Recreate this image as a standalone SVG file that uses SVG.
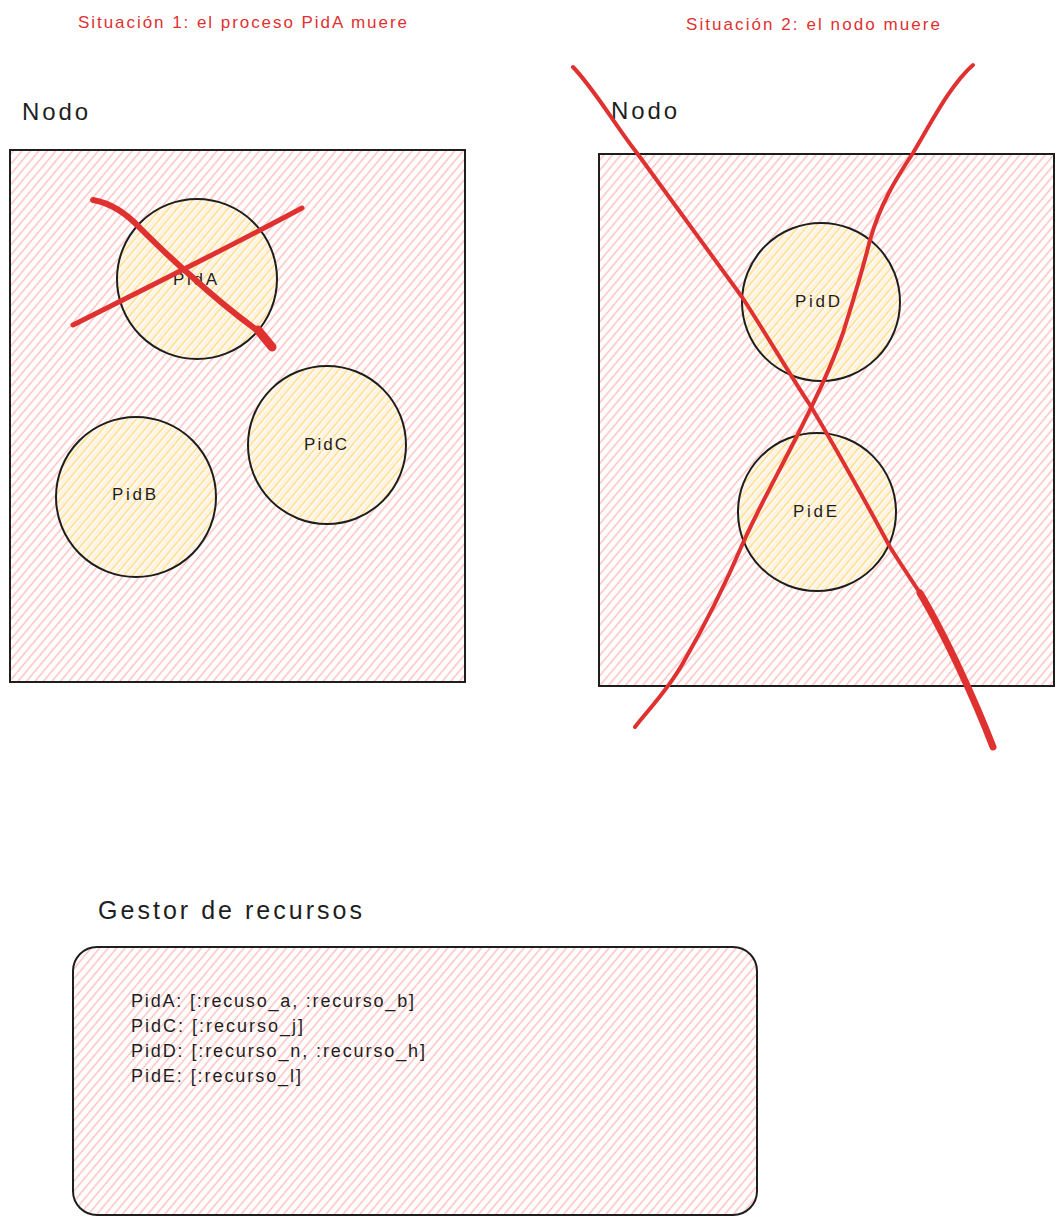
<svg xmlns="http://www.w3.org/2000/svg" width="1064" height="1225" viewBox="0 0 1064 1225">
<defs>
<pattern id="hp" width="6.5" height="6.5" patternUnits="userSpaceOnUse" patternTransform="rotate(40)">
<line x1="3.25" y1="0" x2="3.25" y2="6.5" stroke="#ffbcbc" stroke-width="1.4"/>
</pattern>
<pattern id="hy" width="6.5" height="6.5" patternUnits="userSpaceOnUse" patternTransform="rotate(40)">
<rect width="6.5" height="6.5" fill="#fffaf0"/>
<line x1="3.25" y1="0" x2="3.25" y2="6.5" stroke="#ffdb7a" stroke-width="1.4"/>
<line x1="0" y1="0" x2="0" y2="6.5" stroke="#ffd0d0" stroke-width="0.8"/>
</pattern>
<style>
.box{fill:url(#hp);stroke:#1e1e1e;stroke-width:2}
.proc{fill:url(#hy);stroke:#1e1e1e;stroke-width:2}
.lbl{font-family:"Liberation Sans",Arial,sans-serif;fill:#1e1e1e}
.title{font-family:"Liberation Sans",Arial,sans-serif;fill:#e03131;font-size:17px}
.cross{fill:none;stroke:#e03131;stroke-linecap:round;stroke-linejoin:round}
</style>
</defs>
<rect width="1064" height="1225" fill="#ffffff"/>

<text class="title" x="78" y="28" textLength="329">Situación 1: el proceso PidA muere</text>
<text class="title" x="686" y="30" textLength="254">Situación 2: el nodo muere</text>

<g id="nodo1">
<rect class="box" x="10" y="150" width="455" height="532"/>
<text class="lbl" x="22" y="120" font-size="24" textLength="66">Nodo</text>
</g>
<g id="pidA">
<circle class="proc" cx="197" cy="279" r="80"/>
<text class="lbl" x="173" y="285" font-size="17" textLength="44">PidA</text>
</g>
<g id="pidB">
<circle class="proc" cx="136" cy="497" r="80"/>
<text class="lbl" x="112" y="500" font-size="17" textLength="44">PidB</text>
</g>
<g id="pidC">
<circle class="proc" cx="327" cy="445" r="79"/>
<text class="lbl" x="304" y="450" font-size="17" textLength="43">PidC</text>
</g>

<g id="nodo2">
<rect class="box" x="599" y="154" width="455" height="532"/>
<text class="lbl" x="611" y="119" font-size="24" textLength="66">Nodo</text>
</g>
<g id="pidD">
<circle class="proc" cx="821" cy="302" r="79"/>
<text class="lbl" x="795" y="307" font-size="17" textLength="45">PidD</text>
</g>
<g id="pidE">
<circle class="proc" cx="817" cy="512" r="79"/>
<text class="lbl" x="793" y="517" font-size="17" textLength="44">PidE</text>
</g>

<g id="gestor">
<text class="lbl" x="98" y="919" font-size="25" textLength="264">Gestor de recursos</text>
<rect class="box" x="73" y="947" width="684" height="268" rx="24"/>
<text class="lbl" font-size="18">
<tspan x="131" y="1007" textLength="283">PidA: [:recuso_a, :recurso_b]</tspan>
<tspan x="131" y="1032" textLength="172">PidC: [:recurso_j]</tspan>
<tspan x="131" y="1057" textLength="294">PidD: [:recurso_n, :recurso_h]</tspan>
<tspan x="131" y="1082" textLength="170">PidE: [:recurso_l]</tspan>
</text>
</g>

<g id="connectors">
<path class="cross" stroke-width="6" d="M93,200 C110,203 125,212 140,228 C160,248 175,262 190,275 C215,298 240,318 262,334"/>
<path class="cross" stroke-width="9" d="M258,330 L272,347"/>
<path class="cross" stroke-width="5" d="M73,325 C130,296 220,252 302,208"/>
<path class="cross" stroke-width="4" d="M573,67 C595,90 615,125 637,153 L742,297 C770,340 790,375 810,405 C840,455 870,510 890,547 C900,563 910,578 920,593 C945,635 975,700 993,747"/>
<path class="cross" stroke-width="7" d="M920,593 C945,635 975,700 993,747"/>
<path class="cross" stroke-width="4" d="M973,65 C950,85 930,125 913,153 C895,180 880,205 870,240 C860,280 850,310 843,333 C830,370 815,400 800,430 C780,470 760,505 743,543 C725,585 705,625 683,663 C668,690 648,710 635,727"/>
</g>
</svg>
